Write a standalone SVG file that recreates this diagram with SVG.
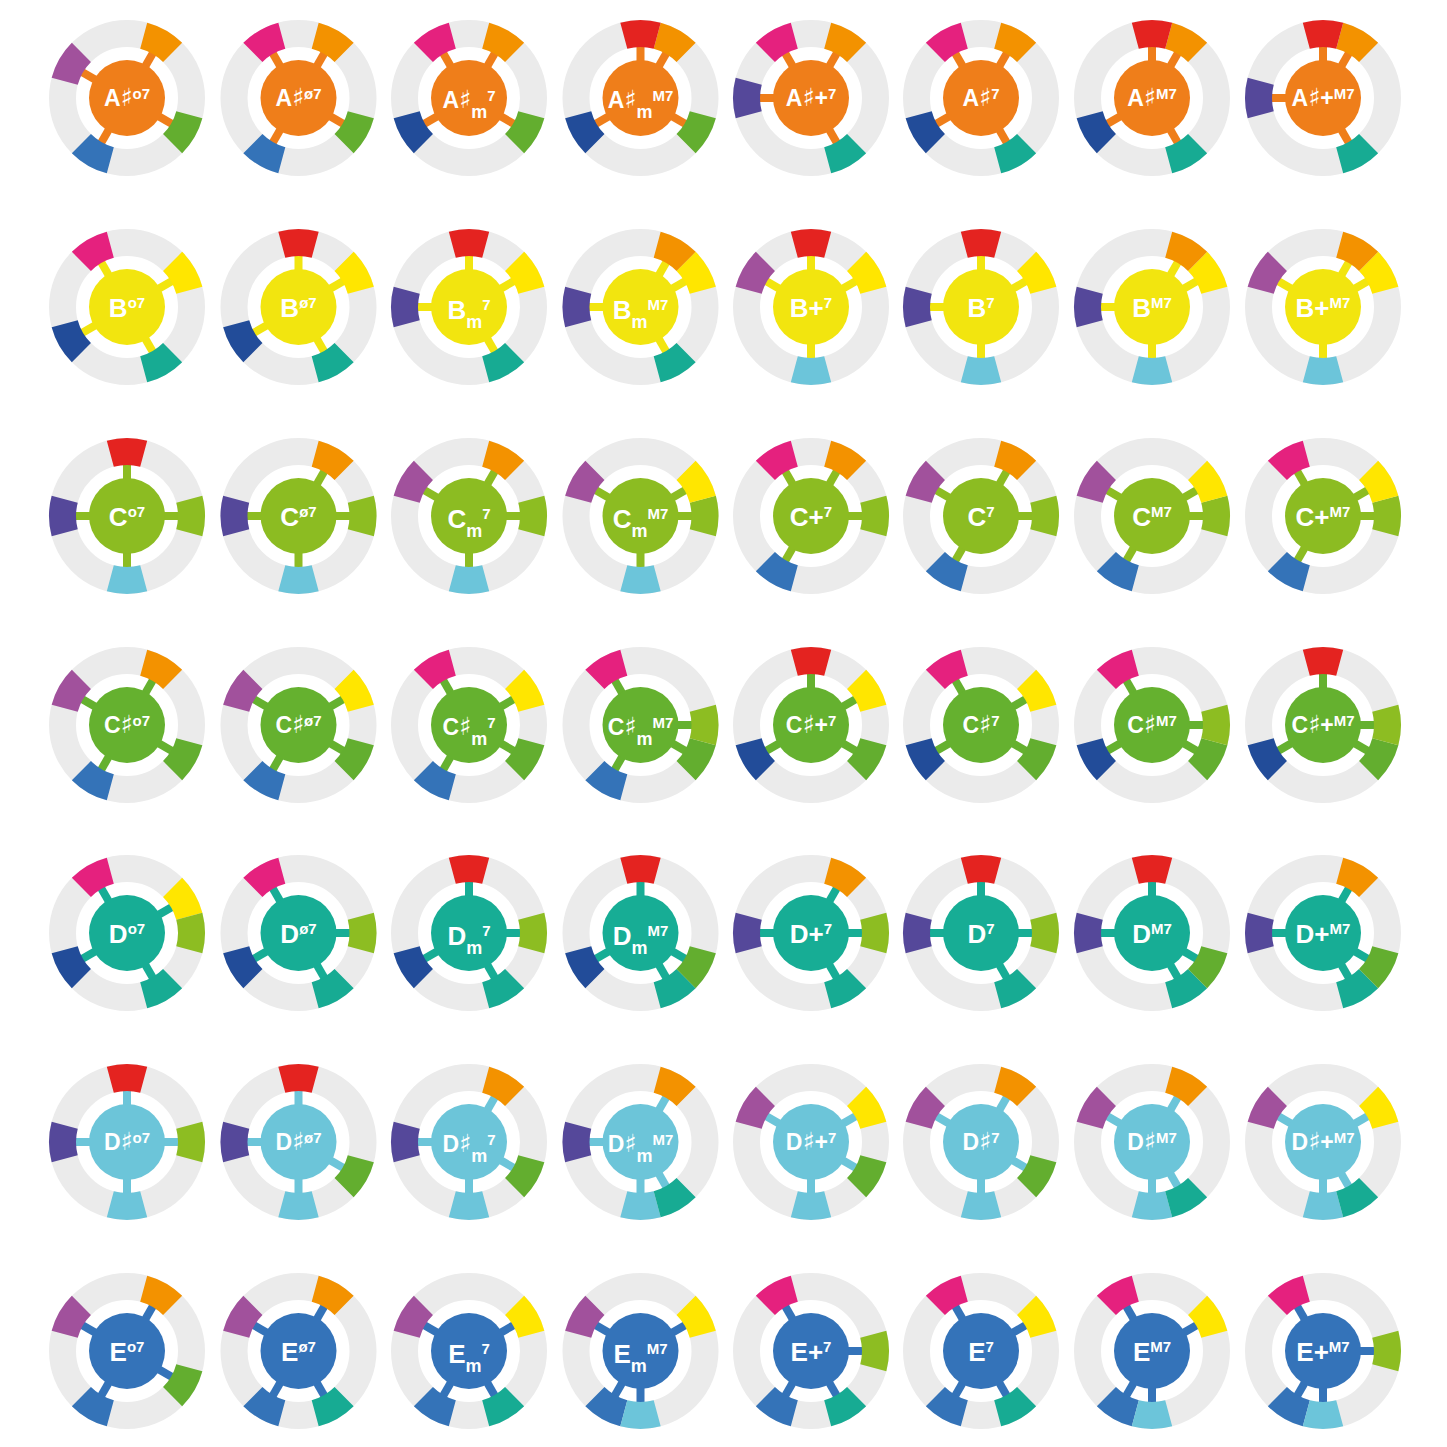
<svg xmlns="http://www.w3.org/2000/svg" xmlns:xlink="http://www.w3.org/1999/xlink" width="1447" height="1447" viewBox="0 0 1447 1447">
<style>
.ring{fill:none;stroke:#ebebeb;stroke-width:27}
.h1{fill:#ef7e1a}.h2{fill:#f2e50f}.h3{fill:#8cbc22}.h4{fill:#65b12f}.h5{fill:#17ad95}.h6{fill:#6cc5d9}.h7{fill:#3473b9}
.t{font-family:"Liberation Sans",Arial,sans-serif;font-weight:bold;font-size:26px;fill:#fff;text-anchor:middle}
.s{font-size:23px}
.sh{font-family:"DejaVu Sans",sans-serif;font-weight:normal;font-size:25px}
.u{font-size:15px}
.m{font-size:18px}
</style>
<defs>
<path id="g" d="M-20.19,-75.34A78,78 0 0 1 20.19,-75.34L13.2,-49.26A51,51 0 0 0 -13.2,-49.26Z"/>
<use id="n0" href="#g" fill="#e42320"/>
<use id="n1" href="#g" fill="#f39200" transform="rotate(30)"/>
<use id="n2" href="#g" fill="#ffe600" transform="rotate(60)"/>
<use id="n3" href="#g" fill="#8dbd22" transform="rotate(90)"/>
<use id="n4" href="#g" fill="#63ae2f" transform="rotate(120)"/>
<use id="n5" href="#g" fill="#17ab93" transform="rotate(150)"/>
<use id="n6" href="#g" fill="#6cc5da" transform="rotate(180)"/>
<use id="n7" href="#g" fill="#3473b8" transform="rotate(210)"/>
<use id="n8" href="#g" fill="#224c99" transform="rotate(240)"/>
<use id="n9" href="#g" fill="#55489a" transform="rotate(270)"/>
<use id="n10" href="#g" fill="#a1519c" transform="rotate(300)"/>
<use id="n11" href="#g" fill="#e5217e" transform="rotate(330)"/>
<rect id="k0" x="-4" y="-53" width="8" height="53"/>
<rect id="k1" x="-4" y="-53" width="8" height="53" transform="rotate(30)"/>
<rect id="k2" x="-4" y="-53" width="8" height="53" transform="rotate(60)"/>
<rect id="k3" x="-4" y="-53" width="8" height="53" transform="rotate(90)"/>
<rect id="k4" x="-4" y="-53" width="8" height="53" transform="rotate(120)"/>
<rect id="k5" x="-4" y="-53" width="8" height="53" transform="rotate(150)"/>
<rect id="k6" x="-4" y="-53" width="8" height="53" transform="rotate(180)"/>
<rect id="k7" x="-4" y="-53" width="8" height="53" transform="rotate(210)"/>
<rect id="k8" x="-4" y="-53" width="8" height="53" transform="rotate(240)"/>
<rect id="k9" x="-4" y="-53" width="8" height="53" transform="rotate(270)"/>
<rect id="k10" x="-4" y="-53" width="8" height="53" transform="rotate(300)"/>
<rect id="k11" x="-4" y="-53" width="8" height="53" transform="rotate(330)"/>
</defs>
<rect width="1447" height="1447" fill="#fff"/>

<!-- Row 1: A# -->
<g id="Ash-o7" transform="translate(127 98)"><circle class="ring" r="64.5"/><g class="h1"><use href="#k1"/><use href="#k4"/><use href="#k7"/><use href="#k10"/><circle r="38"/></g><use href="#n1"/><use href="#n4"/><use href="#n7"/><use href="#n10"/><text class="t s" y="8">A<tspan class="sh">♯</tspan><tspan class="u" dy="-7">o7</tspan></text></g>
<g id="Ash-hd7" transform="translate(298.5 98)"><circle class="ring" r="64.5"/><g class="h1"><use href="#k1"/><use href="#k4"/><use href="#k7"/><use href="#k11"/><circle r="38"/></g><use href="#n1"/><use href="#n4"/><use href="#n7"/><use href="#n11"/><text class="t s" y="8">A<tspan class="sh">♯</tspan><tspan class="u" dy="-7">ø7</tspan></text></g>
<g id="Ash-m7" transform="translate(469 98)"><circle class="ring" r="64.5"/><g class="h1"><use href="#k1"/><use href="#k4"/><use href="#k8"/><use href="#k11"/><circle r="38"/></g><use href="#n1"/><use href="#n4"/><use href="#n8"/><use href="#n11"/><text class="t s" y="10">A<tspan class="sh">♯</tspan><tspan class="m" dy="10">m</tspan><tspan class="u" dy="-17">7</tspan></text></g>
<g id="Ash-mM7" transform="translate(640.5 98)"><circle class="ring" r="64.5"/><g class="h1"><use href="#k1"/><use href="#k4"/><use href="#k8"/><use href="#k0"/><circle r="38"/></g><use href="#n1"/><use href="#n4"/><use href="#n8"/><use href="#n0"/><text class="t s" y="10">A<tspan class="sh">♯</tspan><tspan class="m" dy="10">m</tspan><tspan class="u" dy="-17">M7</tspan></text></g>
<g id="Ash-aug7" transform="translate(811 98)"><circle class="ring" r="64.5"/><g class="h1"><use href="#k1"/><use href="#k5"/><use href="#k9"/><use href="#k11"/><circle r="38"/></g><use href="#n1"/><use href="#n5"/><use href="#n9"/><use href="#n11"/><text class="t s" y="8">A<tspan class="sh">♯</tspan>+<tspan class="u" dy="-7">7</tspan></text></g>
<g id="Ash-7" transform="translate(981 98)"><circle class="ring" r="64.5"/><g class="h1"><use href="#k1"/><use href="#k5"/><use href="#k8"/><use href="#k11"/><circle r="38"/></g><use href="#n1"/><use href="#n5"/><use href="#n8"/><use href="#n11"/><text class="t s" y="8">A<tspan class="sh">♯</tspan><tspan class="u" dy="-7">7</tspan></text></g>
<g id="Ash-M7" transform="translate(1152 98)"><circle class="ring" r="64.5"/><g class="h1"><use href="#k1"/><use href="#k5"/><use href="#k8"/><use href="#k0"/><circle r="38"/></g><use href="#n1"/><use href="#n5"/><use href="#n8"/><use href="#n0"/><text class="t s" y="8">A<tspan class="sh">♯</tspan><tspan class="u" dy="-7">M7</tspan></text></g>
<g id="Ash-augM7" transform="translate(1323 98)"><circle class="ring" r="64.5"/><g class="h1"><use href="#k1"/><use href="#k5"/><use href="#k9"/><use href="#k0"/><circle r="38"/></g><use href="#n1"/><use href="#n5"/><use href="#n9"/><use href="#n0"/><text class="t s" y="8">A<tspan class="sh">♯</tspan>+<tspan class="u" dy="-7">M7</tspan></text></g>

<!-- Row 2: B -->
<g id="B-o7" transform="translate(127 307)"><circle class="ring" r="64.5"/><g class="h2"><use href="#k2"/><use href="#k5"/><use href="#k8"/><use href="#k11"/><circle r="38"/></g><use href="#n2"/><use href="#n5"/><use href="#n8"/><use href="#n11"/><text class="t" y="10">B<tspan class="u" dy="-9">o7</tspan></text></g>
<g id="B-hd7" transform="translate(298.5 307)"><circle class="ring" r="64.5"/><g class="h2"><use href="#k2"/><use href="#k5"/><use href="#k8"/><use href="#k0"/><circle r="38"/></g><use href="#n2"/><use href="#n5"/><use href="#n8"/><use href="#n0"/><text class="t" y="10">B<tspan class="u" dy="-9">ø7</tspan></text></g>
<g id="B-m7" transform="translate(469 307)"><circle class="ring" r="64.5"/><g class="h2"><use href="#k2"/><use href="#k5"/><use href="#k9"/><use href="#k0"/><circle r="38"/></g><use href="#n2"/><use href="#n5"/><use href="#n9"/><use href="#n0"/><text class="t" y="12">B<tspan class="m" dy="9">m</tspan><tspan class="u" dy="-18">7</tspan></text></g>
<g id="B-mM7" transform="translate(640.5 307)"><circle class="ring" r="64.5"/><g class="h2"><use href="#k2"/><use href="#k5"/><use href="#k9"/><use href="#k1"/><circle r="38"/></g><use href="#n2"/><use href="#n5"/><use href="#n9"/><use href="#n1"/><text class="t" y="12">B<tspan class="m" dy="9">m</tspan><tspan class="u" dy="-18">M7</tspan></text></g>
<g id="B-aug7" transform="translate(811 307)"><circle class="ring" r="64.5"/><g class="h2"><use href="#k2"/><use href="#k6"/><use href="#k10"/><use href="#k0"/><circle r="38"/></g><use href="#n2"/><use href="#n6"/><use href="#n10"/><use href="#n0"/><text class="t" y="10">B+<tspan class="u" dy="-9">7</tspan></text></g>
<g id="B-7" transform="translate(981 307)"><circle class="ring" r="64.5"/><g class="h2"><use href="#k2"/><use href="#k6"/><use href="#k9"/><use href="#k0"/><circle r="38"/></g><use href="#n2"/><use href="#n6"/><use href="#n9"/><use href="#n0"/><text class="t" y="10">B<tspan class="u" dy="-9">7</tspan></text></g>
<g id="B-M7" transform="translate(1152 307)"><circle class="ring" r="64.5"/><g class="h2"><use href="#k2"/><use href="#k6"/><use href="#k9"/><use href="#k1"/><circle r="38"/></g><use href="#n2"/><use href="#n6"/><use href="#n9"/><use href="#n1"/><text class="t" y="10">B<tspan class="u" dy="-9">M7</tspan></text></g>
<g id="B-augM7" transform="translate(1323 307)"><circle class="ring" r="64.5"/><g class="h2"><use href="#k2"/><use href="#k6"/><use href="#k10"/><use href="#k1"/><circle r="38"/></g><use href="#n2"/><use href="#n6"/><use href="#n10"/><use href="#n1"/><text class="t" y="10">B+<tspan class="u" dy="-9">M7</tspan></text></g>

<!-- Row 3: C -->
<g id="C-o7" transform="translate(127 516)"><circle class="ring" r="64.5"/><g class="h3"><use href="#k3"/><use href="#k6"/><use href="#k9"/><use href="#k0"/><circle r="38"/></g><use href="#n3"/><use href="#n6"/><use href="#n9"/><use href="#n0"/><text class="t" y="10">C<tspan class="u" dy="-9">o7</tspan></text></g>
<g id="C-hd7" transform="translate(298.5 516)"><circle class="ring" r="64.5"/><g class="h3"><use href="#k3"/><use href="#k6"/><use href="#k9"/><use href="#k1"/><circle r="38"/></g><use href="#n3"/><use href="#n6"/><use href="#n9"/><use href="#n1"/><text class="t" y="10">C<tspan class="u" dy="-9">ø7</tspan></text></g>
<g id="C-m7" transform="translate(469 516)"><circle class="ring" r="64.5"/><g class="h3"><use href="#k3"/><use href="#k6"/><use href="#k10"/><use href="#k1"/><circle r="38"/></g><use href="#n3"/><use href="#n6"/><use href="#n10"/><use href="#n1"/><text class="t" y="12">C<tspan class="m" dy="9">m</tspan><tspan class="u" dy="-18">7</tspan></text></g>
<g id="C-mM7" transform="translate(640.5 516)"><circle class="ring" r="64.5"/><g class="h3"><use href="#k3"/><use href="#k6"/><use href="#k10"/><use href="#k2"/><circle r="38"/></g><use href="#n3"/><use href="#n6"/><use href="#n10"/><use href="#n2"/><text class="t" y="12">C<tspan class="m" dy="9">m</tspan><tspan class="u" dy="-18">M7</tspan></text></g>
<g id="C-aug7" transform="translate(811 516)"><circle class="ring" r="64.5"/><g class="h3"><use href="#k3"/><use href="#k7"/><use href="#k11"/><use href="#k1"/><circle r="38"/></g><use href="#n3"/><use href="#n7"/><use href="#n11"/><use href="#n1"/><text class="t" y="10">C+<tspan class="u" dy="-9">7</tspan></text></g>
<g id="C-7" transform="translate(981 516)"><circle class="ring" r="64.5"/><g class="h3"><use href="#k3"/><use href="#k7"/><use href="#k10"/><use href="#k1"/><circle r="38"/></g><use href="#n3"/><use href="#n7"/><use href="#n10"/><use href="#n1"/><text class="t" y="10">C<tspan class="u" dy="-9">7</tspan></text></g>
<g id="C-M7" transform="translate(1152 516)"><circle class="ring" r="64.5"/><g class="h3"><use href="#k3"/><use href="#k7"/><use href="#k10"/><use href="#k2"/><circle r="38"/></g><use href="#n3"/><use href="#n7"/><use href="#n10"/><use href="#n2"/><text class="t" y="10">C<tspan class="u" dy="-9">M7</tspan></text></g>
<g id="C-augM7" transform="translate(1323 516)"><circle class="ring" r="64.5"/><g class="h3"><use href="#k3"/><use href="#k7"/><use href="#k11"/><use href="#k2"/><circle r="38"/></g><use href="#n3"/><use href="#n7"/><use href="#n11"/><use href="#n2"/><text class="t" y="10">C+<tspan class="u" dy="-9">M7</tspan></text></g>

<!-- Row 4: C# -->
<g id="Csh-o7" transform="translate(127 725)"><circle class="ring" r="64.5"/><g class="h4"><use href="#k4"/><use href="#k7"/><use href="#k10"/><use href="#k1"/><circle r="38"/></g><use href="#n4"/><use href="#n7"/><use href="#n10"/><use href="#n1"/><text class="t s" y="8">C<tspan class="sh">♯</tspan><tspan class="u" dy="-7">o7</tspan></text></g>
<g id="Csh-hd7" transform="translate(298.5 725)"><circle class="ring" r="64.5"/><g class="h4"><use href="#k4"/><use href="#k7"/><use href="#k10"/><use href="#k2"/><circle r="38"/></g><use href="#n4"/><use href="#n7"/><use href="#n10"/><use href="#n2"/><text class="t s" y="8">C<tspan class="sh">♯</tspan><tspan class="u" dy="-7">ø7</tspan></text></g>
<g id="Csh-m7" transform="translate(469 725)"><circle class="ring" r="64.5"/><g class="h4"><use href="#k4"/><use href="#k7"/><use href="#k11"/><use href="#k2"/><circle r="38"/></g><use href="#n4"/><use href="#n7"/><use href="#n11"/><use href="#n2"/><text class="t s" y="10">C<tspan class="sh">♯</tspan><tspan class="m" dy="10">m</tspan><tspan class="u" dy="-17">7</tspan></text></g>
<g id="Csh-mM7" transform="translate(640.5 725)"><circle class="ring" r="64.5"/><g class="h4"><use href="#k4"/><use href="#k7"/><use href="#k11"/><use href="#k3"/><circle r="38"/></g><use href="#n4"/><use href="#n7"/><use href="#n11"/><use href="#n3"/><text class="t s" y="10">C<tspan class="sh">♯</tspan><tspan class="m" dy="10">m</tspan><tspan class="u" dy="-17">M7</tspan></text></g>
<g id="Csh-aug7" transform="translate(811 725)"><circle class="ring" r="64.5"/><g class="h4"><use href="#k4"/><use href="#k8"/><use href="#k0"/><use href="#k2"/><circle r="38"/></g><use href="#n4"/><use href="#n8"/><use href="#n0"/><use href="#n2"/><text class="t s" y="8">C<tspan class="sh">♯</tspan>+<tspan class="u" dy="-7">7</tspan></text></g>
<g id="Csh-7" transform="translate(981 725)"><circle class="ring" r="64.5"/><g class="h4"><use href="#k4"/><use href="#k8"/><use href="#k11"/><use href="#k2"/><circle r="38"/></g><use href="#n4"/><use href="#n8"/><use href="#n11"/><use href="#n2"/><text class="t s" y="8">C<tspan class="sh">♯</tspan><tspan class="u" dy="-7">7</tspan></text></g>
<g id="Csh-M7" transform="translate(1152 725)"><circle class="ring" r="64.5"/><g class="h4"><use href="#k4"/><use href="#k8"/><use href="#k11"/><use href="#k3"/><circle r="38"/></g><use href="#n4"/><use href="#n8"/><use href="#n11"/><use href="#n3"/><text class="t s" y="8">C<tspan class="sh">♯</tspan><tspan class="u" dy="-7">M7</tspan></text></g>
<g id="Csh-augM7" transform="translate(1323 725)"><circle class="ring" r="64.5"/><g class="h4"><use href="#k4"/><use href="#k8"/><use href="#k0"/><use href="#k3"/><circle r="38"/></g><use href="#n4"/><use href="#n8"/><use href="#n0"/><use href="#n3"/><text class="t s" y="8">C<tspan class="sh">♯</tspan>+<tspan class="u" dy="-7">M7</tspan></text></g>

<!-- Row 5: D -->
<g id="D-o7" transform="translate(127 933)"><circle class="ring" r="64.5"/><g class="h5"><use href="#k5"/><use href="#k8"/><use href="#k11"/><use href="#k2"/><circle r="38"/></g><use href="#n5"/><use href="#n8"/><use href="#n11"/><use href="#n2"/><use href="#n3"/><text class="t" y="10">D<tspan class="u" dy="-9">o7</tspan></text></g>
<g id="D-hd7" transform="translate(298.5 933)"><circle class="ring" r="64.5"/><g class="h5"><use href="#k5"/><use href="#k8"/><use href="#k11"/><use href="#k3"/><circle r="38"/></g><use href="#n5"/><use href="#n8"/><use href="#n11"/><use href="#n3"/><text class="t" y="10">D<tspan class="u" dy="-9">ø7</tspan></text></g>
<g id="D-m7" transform="translate(469 933)"><circle class="ring" r="64.5"/><g class="h5"><use href="#k5"/><use href="#k8"/><use href="#k0"/><use href="#k3"/><circle r="38"/></g><use href="#n5"/><use href="#n8"/><use href="#n0"/><use href="#n3"/><text class="t" y="12">D<tspan class="m" dy="9">m</tspan><tspan class="u" dy="-18">7</tspan></text></g>
<g id="D-mM7" transform="translate(640.5 933)"><circle class="ring" r="64.5"/><g class="h5"><use href="#k5"/><use href="#k8"/><use href="#k0"/><use href="#k4"/><circle r="38"/></g><use href="#n5"/><use href="#n8"/><use href="#n0"/><use href="#n4"/><text class="t" y="12">D<tspan class="m" dy="9">m</tspan><tspan class="u" dy="-18">M7</tspan></text></g>
<g id="D-aug7" transform="translate(811 933)"><circle class="ring" r="64.5"/><g class="h5"><use href="#k5"/><use href="#k9"/><use href="#k1"/><use href="#k3"/><circle r="38"/></g><use href="#n5"/><use href="#n9"/><use href="#n1"/><use href="#n3"/><text class="t" y="10">D+<tspan class="u" dy="-9">7</tspan></text></g>
<g id="D-7" transform="translate(981 933)"><circle class="ring" r="64.5"/><g class="h5"><use href="#k5"/><use href="#k9"/><use href="#k0"/><use href="#k3"/><circle r="38"/></g><use href="#n5"/><use href="#n9"/><use href="#n0"/><use href="#n3"/><text class="t" y="10">D<tspan class="u" dy="-9">7</tspan></text></g>
<g id="D-M7" transform="translate(1152 933)"><circle class="ring" r="64.5"/><g class="h5"><use href="#k5"/><use href="#k9"/><use href="#k0"/><use href="#k4"/><circle r="38"/></g><use href="#n5"/><use href="#n9"/><use href="#n0"/><use href="#n4"/><text class="t" y="10">D<tspan class="u" dy="-9">M7</tspan></text></g>
<g id="D-augM7" transform="translate(1323 933)"><circle class="ring" r="64.5"/><g class="h5"><use href="#k5"/><use href="#k9"/><use href="#k1"/><use href="#k4"/><circle r="38"/></g><use href="#n5"/><use href="#n9"/><use href="#n1"/><use href="#n4"/><text class="t" y="10">D+<tspan class="u" dy="-9">M7</tspan></text></g>

<!-- Row 6: D# -->
<g id="Dsh-o7" transform="translate(127 1142)"><circle class="ring" r="64.5"/><g class="h6"><use href="#k6"/><use href="#k9"/><use href="#k0"/><use href="#k3"/><circle r="38"/></g><use href="#n6"/><use href="#n9"/><use href="#n0"/><use href="#n3"/><text class="t s" y="8">D<tspan class="sh">♯</tspan><tspan class="u" dy="-7">o7</tspan></text></g>
<g id="Dsh-hd7" transform="translate(298.5 1142)"><circle class="ring" r="64.5"/><g class="h6"><use href="#k6"/><use href="#k9"/><use href="#k0"/><use href="#k4"/><circle r="38"/></g><use href="#n6"/><use href="#n9"/><use href="#n0"/><use href="#n4"/><text class="t s" y="8">D<tspan class="sh">♯</tspan><tspan class="u" dy="-7">ø7</tspan></text></g>
<g id="Dsh-m7" transform="translate(469 1142)"><circle class="ring" r="64.5"/><g class="h6"><use href="#k6"/><use href="#k9"/><use href="#k1"/><use href="#k4"/><circle r="38"/></g><use href="#n6"/><use href="#n9"/><use href="#n1"/><use href="#n4"/><text class="t s" y="10">D<tspan class="sh">♯</tspan><tspan class="m" dy="10">m</tspan><tspan class="u" dy="-17">7</tspan></text></g>
<g id="Dsh-mM7" transform="translate(640.5 1142)"><circle class="ring" r="64.5"/><g class="h6"><use href="#k6"/><use href="#k9"/><use href="#k1"/><use href="#k5"/><circle r="38"/></g><use href="#n6"/><use href="#n9"/><use href="#n1"/><use href="#n5"/><text class="t s" y="10">D<tspan class="sh">♯</tspan><tspan class="m" dy="10">m</tspan><tspan class="u" dy="-17">M7</tspan></text></g>
<g id="Dsh-aug7" transform="translate(811 1142)"><circle class="ring" r="64.5"/><g class="h6"><use href="#k6"/><use href="#k10"/><use href="#k2"/><use href="#k4"/><circle r="38"/></g><use href="#n6"/><use href="#n10"/><use href="#n2"/><use href="#n4"/><text class="t s" y="8">D<tspan class="sh">♯</tspan>+<tspan class="u" dy="-7">7</tspan></text></g>
<g id="Dsh-7" transform="translate(981 1142)"><circle class="ring" r="64.5"/><g class="h6"><use href="#k6"/><use href="#k10"/><use href="#k1"/><use href="#k4"/><circle r="38"/></g><use href="#n6"/><use href="#n10"/><use href="#n1"/><use href="#n4"/><text class="t s" y="8">D<tspan class="sh">♯</tspan><tspan class="u" dy="-7">7</tspan></text></g>
<g id="Dsh-M7" transform="translate(1152 1142)"><circle class="ring" r="64.5"/><g class="h6"><use href="#k6"/><use href="#k10"/><use href="#k1"/><use href="#k5"/><circle r="38"/></g><use href="#n6"/><use href="#n10"/><use href="#n1"/><use href="#n5"/><text class="t s" y="8">D<tspan class="sh">♯</tspan><tspan class="u" dy="-7">M7</tspan></text></g>
<g id="Dsh-augM7" transform="translate(1323 1142)"><circle class="ring" r="64.5"/><g class="h6"><use href="#k6"/><use href="#k10"/><use href="#k2"/><use href="#k5"/><circle r="38"/></g><use href="#n6"/><use href="#n10"/><use href="#n2"/><use href="#n5"/><text class="t s" y="8">D<tspan class="sh">♯</tspan>+<tspan class="u" dy="-7">M7</tspan></text></g>

<!-- Row 7: E -->
<g id="E-o7" transform="translate(127 1351)"><circle class="ring" r="64.5"/><g class="h7"><use href="#k7"/><use href="#k10"/><use href="#k1"/><use href="#k4"/><circle r="38"/></g><use href="#n7"/><use href="#n10"/><use href="#n1"/><use href="#n4"/><text class="t" y="10">E<tspan class="u" dy="-9">o7</tspan></text></g>
<g id="E-hd7" transform="translate(298.5 1351)"><circle class="ring" r="64.5"/><g class="h7"><use href="#k7"/><use href="#k10"/><use href="#k1"/><use href="#k5"/><circle r="38"/></g><use href="#n7"/><use href="#n10"/><use href="#n1"/><use href="#n5"/><text class="t" y="10">E<tspan class="u" dy="-9">ø7</tspan></text></g>
<g id="E-m7" transform="translate(469 1351)"><circle class="ring" r="64.5"/><g class="h7"><use href="#k7"/><use href="#k10"/><use href="#k2"/><use href="#k5"/><circle r="38"/></g><use href="#n7"/><use href="#n10"/><use href="#n2"/><use href="#n5"/><text class="t" y="12">E<tspan class="m" dy="9">m</tspan><tspan class="u" dy="-18">7</tspan></text></g>
<g id="E-mM7" transform="translate(640.5 1351)"><circle class="ring" r="64.5"/><g class="h7"><use href="#k7"/><use href="#k10"/><use href="#k2"/><use href="#k6"/><circle r="38"/></g><use href="#n7"/><use href="#n10"/><use href="#n2"/><use href="#n6"/><text class="t" y="12">E<tspan class="m" dy="9">m</tspan><tspan class="u" dy="-18">M7</tspan></text></g>
<g id="E-aug7" transform="translate(811 1351)"><circle class="ring" r="64.5"/><g class="h7"><use href="#k7"/><use href="#k11"/><use href="#k3"/><use href="#k5"/><circle r="38"/></g><use href="#n7"/><use href="#n11"/><use href="#n3"/><use href="#n5"/><text class="t" y="10">E+<tspan class="u" dy="-9">7</tspan></text></g>
<g id="E-7" transform="translate(981 1351)"><circle class="ring" r="64.5"/><g class="h7"><use href="#k7"/><use href="#k11"/><use href="#k2"/><use href="#k5"/><circle r="38"/></g><use href="#n7"/><use href="#n11"/><use href="#n2"/><use href="#n5"/><text class="t" y="10">E<tspan class="u" dy="-9">7</tspan></text></g>
<g id="E-M7" transform="translate(1152 1351)"><circle class="ring" r="64.5"/><g class="h7"><use href="#k7"/><use href="#k11"/><use href="#k2"/><use href="#k6"/><circle r="38"/></g><use href="#n7"/><use href="#n11"/><use href="#n2"/><use href="#n6"/><text class="t" y="10">E<tspan class="u" dy="-9">M7</tspan></text></g>
<g id="E-augM7" transform="translate(1323 1351)"><circle class="ring" r="64.5"/><g class="h7"><use href="#k7"/><use href="#k11"/><use href="#k3"/><use href="#k6"/><circle r="38"/></g><use href="#n7"/><use href="#n11"/><use href="#n3"/><use href="#n6"/><text class="t" y="10">E+<tspan class="u" dy="-9">M7</tspan></text></g>
</svg>
